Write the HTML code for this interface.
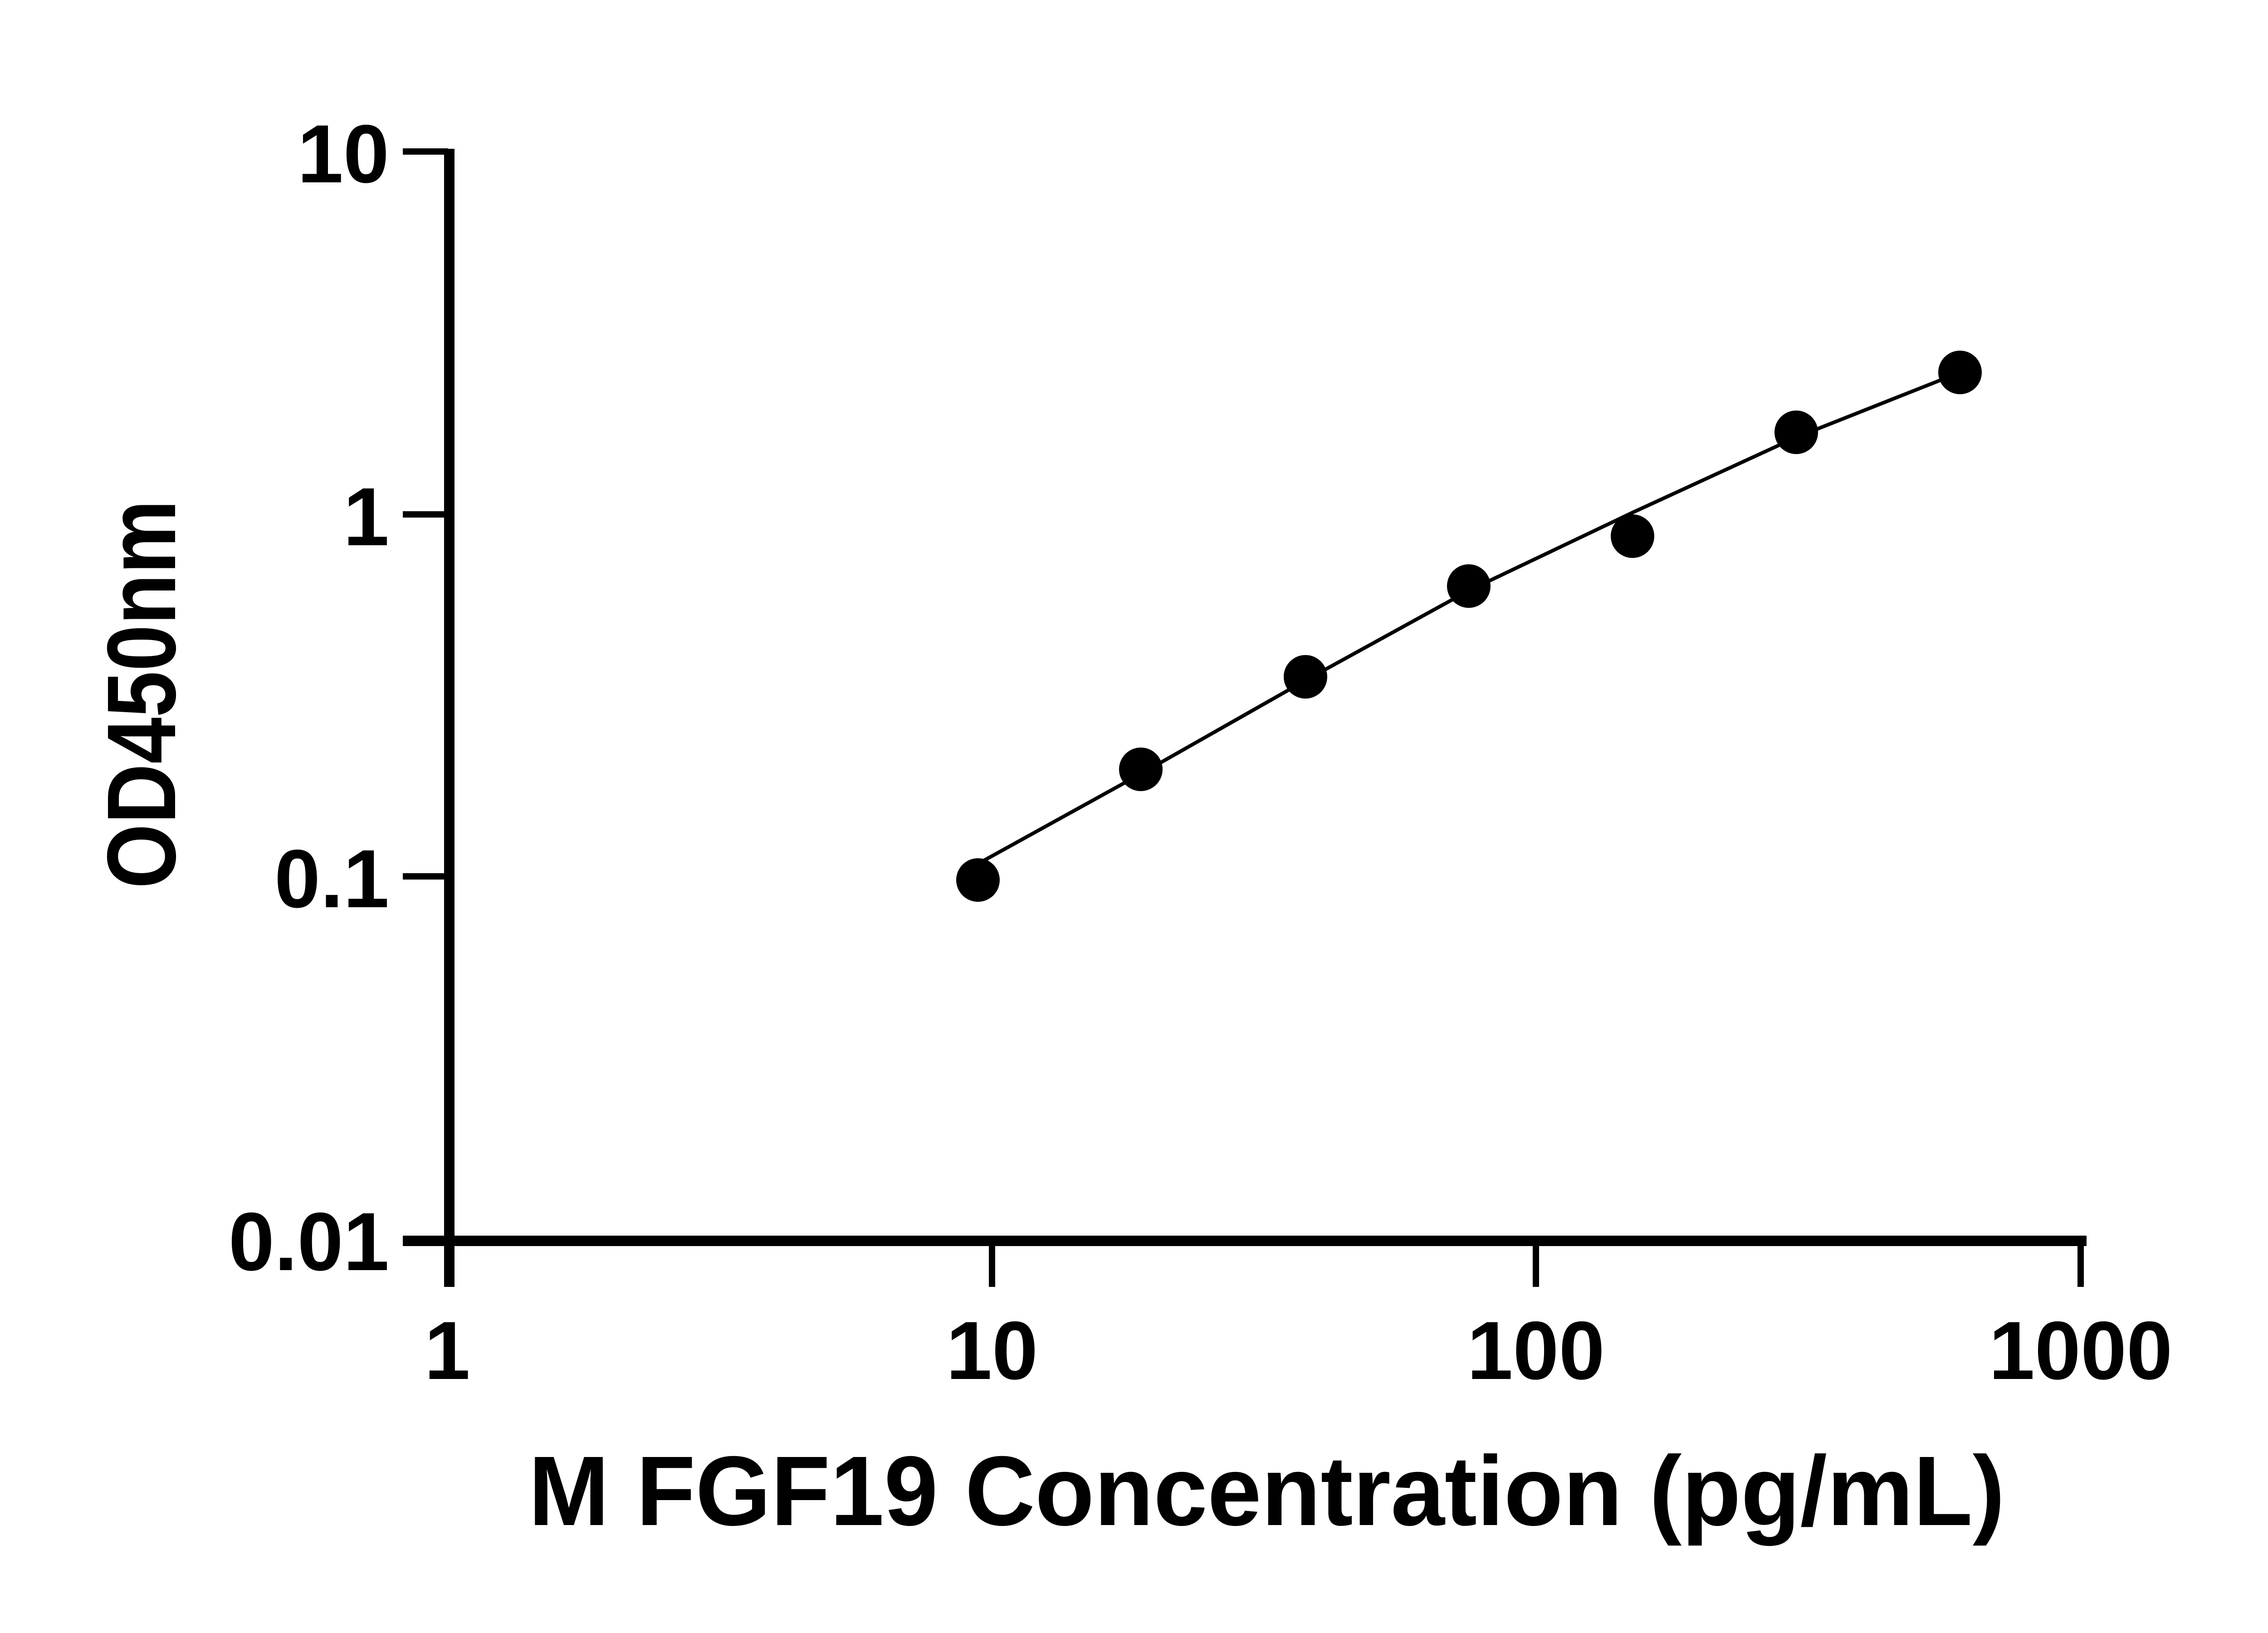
<!DOCTYPE html>
<html><head><meta charset="utf-8"><style>
html,body{margin:0;padding:0;background:#fff;}
svg{display:block;}
text{font-family:"Liberation Sans",Arial,sans-serif;font-weight:bold;fill:#000;}
</style></head><body>
<svg width="5142" height="3600" viewBox="0 0 5142 3600" xmlns="http://www.w3.org/2000/svg">
<rect width="5142" height="3600" fill="#fff"/>
<!-- y axis -->
<rect x="979" y="328" width="23" height="2509" fill="#000"/>
<!-- y ticks -->
<rect x="888" y="327" width="100" height="14" fill="#000"/>
<rect x="888" y="1127" width="100" height="14" fill="#000"/>
<rect x="888" y="1925" width="100" height="14" fill="#000"/>
<rect x="888" y="2725" width="100" height="14" fill="#000"/>
<!-- x axis -->
<rect x="888" y="2724" width="3712" height="23" fill="#000"/>
<!-- x ticks -->
<rect x="979" y="2740" width="14" height="97" fill="#000"/>
<rect x="2180" y="2740" width="14" height="97" fill="#000"/>
<rect x="3379" y="2740" width="14" height="97" fill="#000"/>
<rect x="4580" y="2740" width="14" height="97" fill="#000"/>
<!-- y tick labels -->
<text x="858" y="402" font-size="182" text-anchor="end">10</text>
<text x="858" y="1202" font-size="182" text-anchor="end">1</text>
<text x="858" y="2000" font-size="182" text-anchor="end">0.1</text>
<text x="858" y="2800" font-size="182" text-anchor="end">0.01</text>
<!-- x tick labels -->
<text x="986" y="3040" font-size="182" text-anchor="middle">1</text>
<text x="2187" y="3040" font-size="182" text-anchor="middle">10</text>
<text x="3386" y="3040" font-size="182" text-anchor="middle">100</text>
<text x="4587" y="3040" font-size="182" text-anchor="middle">1000</text>
<!-- axis titles -->
<text x="1165" y="3362" font-size="218" textLength="3255" lengthAdjust="spacingAndGlyphs">M FGF19 Concentration (pg/mL)</text>
<text transform="translate(386,1959) rotate(-90)" x="0" y="0" font-size="215" textLength="857" lengthAdjust="spacingAndGlyphs">OD450nm</text>
<!-- curve -->
<polyline points="2160,1902 2515,1706 2878,1500 3238,1302 3599,1130 3960,964 4321,821" fill="none" stroke="#000" stroke-width="8" stroke-linejoin="round"/>
<!-- points -->
<g fill="#000">
<circle cx="2156" cy="1940" r="48"/>
<circle cx="2515" cy="1696" r="48"/>
<circle cx="2878" cy="1492" r="48"/>
<circle cx="3238" cy="1292" r="48"/>
<circle cx="3599" cy="1182" r="48"/>
<circle cx="3960" cy="953" r="48"/>
<circle cx="4321" cy="821" r="48"/>
</g>
</svg>
</body></html>
